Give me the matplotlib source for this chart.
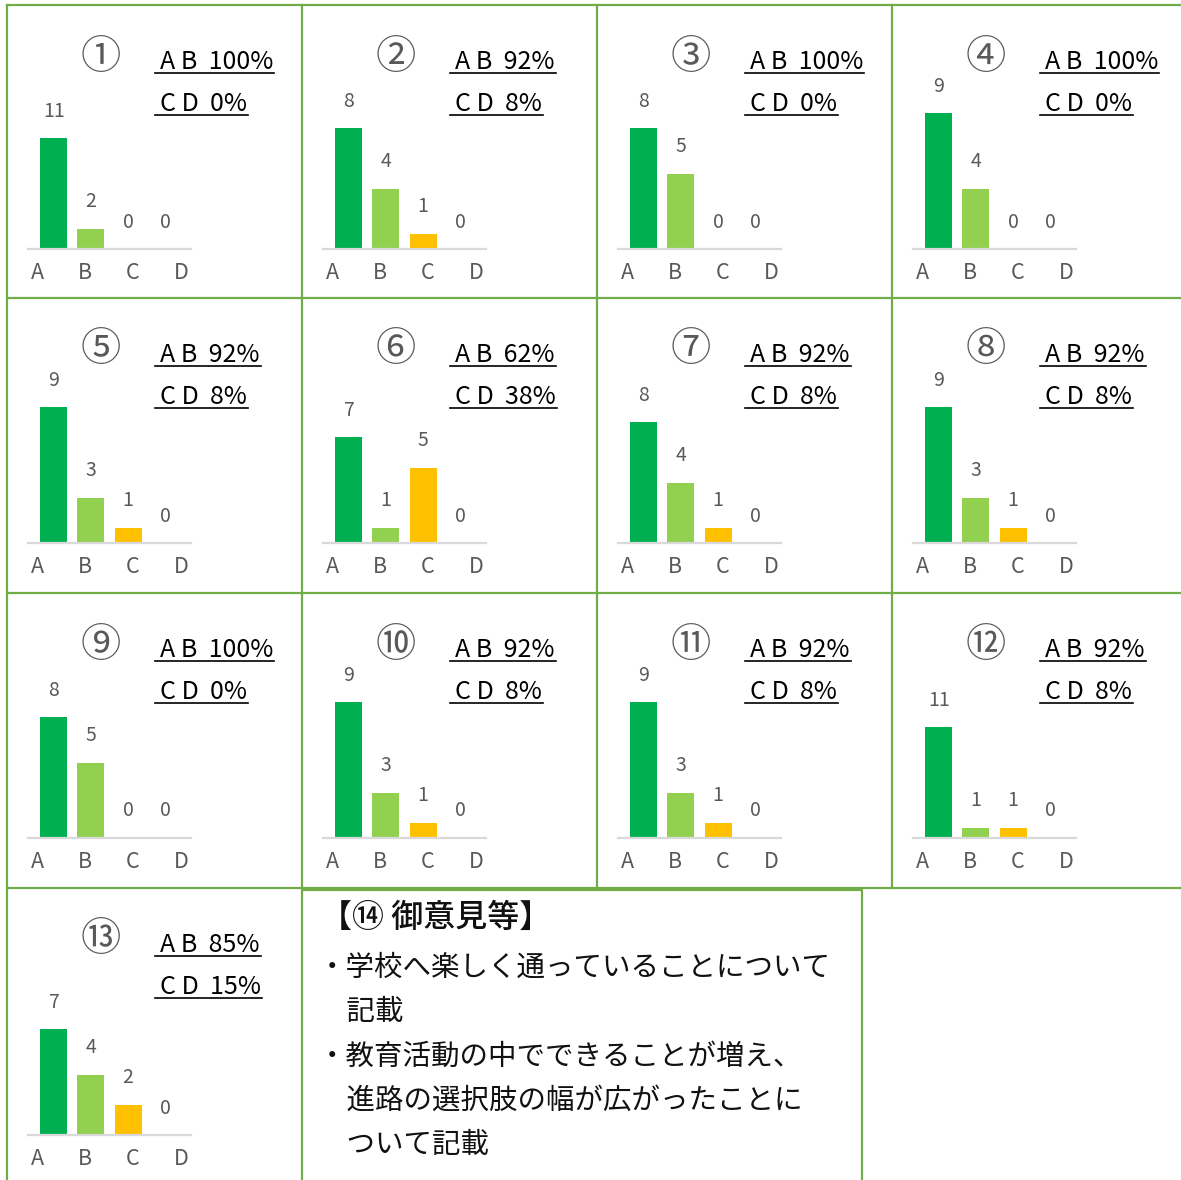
import matplotlib
matplotlib.use('Agg')
import matplotlib.pyplot as plt

plt.rcParams['font.family'] = ['Noto Sans CJK JP', 'DejaVu Sans']

# ---- data ----
categories = ['A', 'B', 'C', 'D']
q_labels = ['①', '②', '③', '④', '⑤', '⑥', '⑦', '⑧', '⑨', '⑩', '⑪', '⑫', '⑬']
counts = [
    [11, 2, 0, 0],
    [8, 4, 1, 0],
    [8, 5, 0, 0],
    [9, 4, 0, 0],
    [9, 3, 1, 0],
    [7, 1, 5, 0],
    [8, 4, 1, 0],
    [9, 3, 1, 0],
    [8, 5, 0, 0],
    [9, 3, 1, 0],
    [9, 3, 1, 0],
    [11, 1, 1, 0],
    [7, 4, 2, 0],
]
ab_pct = ['100%', '92%', '100%', '100%', '92%', '62%', '92%', '92%', '100%', '92%', '92%', '92%', '85%']
cd_pct = ['0%', '8%', '0%', '0%', '8%', '38%', '8%', '8%', '0%', '8%', '8%', '8%', '15%']
comment_title = '【⑭ 御意見等】'
comment_lines = [
    '・学校へ楽しく通っていることについて',
    '　記載',
    '・教育活動の中でできることが増え、',
    '　進路の選択肢の幅が広がったことに',
    '　ついて記載',
]

W, H = 1181, 1180
bar_colors = ['#00B050', '#92D050', '#FFC000', '#FFC000']
grid_c = '#70AD47'
grey = '#595959'

col_x = [7, 302, 597, 892]
row_y = [5, 298, 593, 888]
base_off = [244, 245, 245, 247]

fig = plt.figure(figsize=(W / 100, H / 100), dpi=100)
bg = fig.add_axes([0, 0, 1, 1])
bg.set_xlim(0, W)
bg.set_ylim(H, 0)
bg.axis('off')

# grid lines
lw = 1.6
bg.plot([7, W], [5, 5], color=grid_c, lw=lw)
for y in (298, 593, 888):
    bg.plot([7, W], [y, y], color=grid_c, lw=lw)
bg.plot([7, 7], [5, H], color=grid_c, lw=lw)
for x in (302, 597, 892):
    bg.plot([x, x], [5, 888], color=grid_c, lw=lw)
# comment box
bg.plot([302, 302, 862, 862], [H, 890, 890, H], color=grid_c, lw=lw)

pct_texts = []
for i, vals in enumerate(counts):
    r, c = divmod(i, 4)
    x0, y0 = col_x[c], row_y[r]
    base = y0 + base_off[r]
    top = 15 if max(vals) > 10 else 10
    ax = fig.add_axes([(x0 + 21) / W, 1 - base / H, 163 / W, 151 / H])
    ax.bar(range(4), vals, width=0.73, color=bar_colors)
    ax.set_xlim(-0.70, 3.70)
    ax.set_ylim(0, top)
    ax.axis('off')
    ax.axhline(0, color='#D9D9D9', lw=1.6, clip_on=False)
    for k, v in enumerate(vals):
        ax.annotate(str(v), (k, v), xytext=(0, 27), textcoords='offset pixels',
                    ha='center', va='center', fontsize=14, color=grey)
    for k, lab in enumerate(categories):
        bg.text(x0 + 30 + 48 * k, base + 24, lab, ha='center', va='center',
                fontsize=15.5, color=grey)
    bg.text(x0 + 94, y0 + 52, q_labels[i], ha='center', va='center',
            fontsize=29, color=grey)
    t1 = bg.text(x0 + 153, y0 + 57, 'A B  ' + ab_pct[i], ha='left', va='center',
                 fontsize=18, color='black')
    t2 = bg.text(x0 + 153, y0 + 99, 'C D  ' + cd_pct[i], ha='left', va='center',
                 fontsize=18, color='black')
    pct_texts.append((x0, y0, t1, t2))

bg.text(320, 918, comment_title, ha='left', va='center', fontsize=23,
        color='#111111', fontweight='medium')
for j, line in enumerate(comment_lines):
    bg.text(318, 968 + 44.3 * j, line, ha='left', va='center', fontsize=20.5,
            color='#111111')

# underlines under the percentage texts
fig.canvas.draw()
renderer = fig.canvas.get_renderer()
inv = bg.transData.inverted()
for x0, y0, t1, t2 in pct_texts:
    for t, uy in ((t1, y0 + 68), (t2, y0 + 110)):
        bb = t.get_window_extent(renderer)
        xr = inv.transform((bb.x1, bb.y0))[0]
        bg.plot([x0 + 148, xr + 1], [uy, uy], color='black', lw=1.2)

fig.savefig('out.png', dpi=100)
